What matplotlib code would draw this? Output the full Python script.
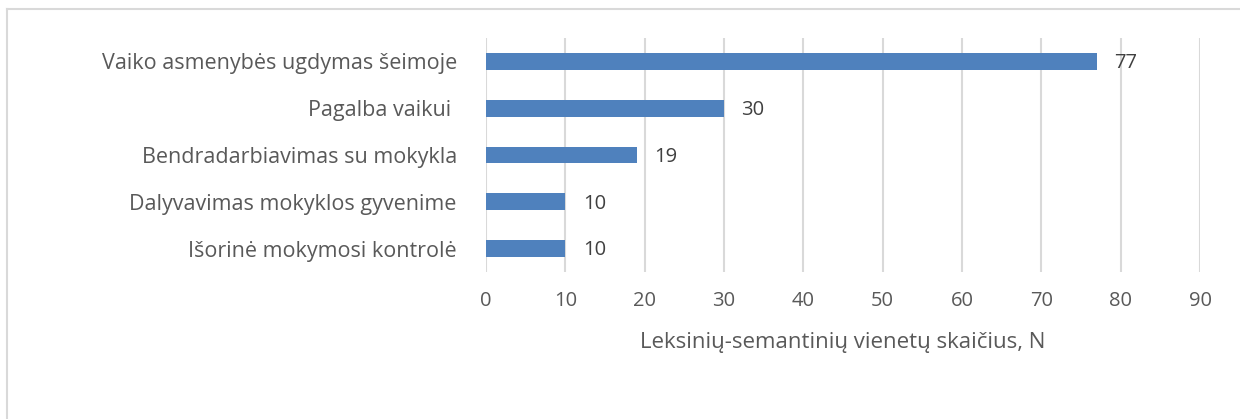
import matplotlib.pyplot as plt
from matplotlib.lines import Line2D

categories = ["Vaiko asmenybės ugdymas šeimoje", "Pagalba vaikui ",
              "Bendradarbiavimas su mokykla", "Dalyvavimas mokyklos gyvenime",
              "Išorinė mokymosi kontrolė"]
values = [77, 30, 19, 10, 10]
xticks = list(range(0, 100, 10))

plt.rcParams['font.family'] = ['Open Sans', 'DejaVu Sans']
txt = '#595959'

fig = plt.figure(figsize=(12.4, 4.19), dpi=100)
ax = fig.add_axes([486/1240, 1-272/419, (1200-486)/1240, (272-38)/419])

ypos = list(range(len(categories)))
ax.barh(ypos, values, height=0.36, color='#4f81bd', zorder=3)
for y, v in zip(ypos, values):
    ax.text(v + 2.2, y + 0.04, str(v), va='center', ha='left', fontsize=14.5, color='#404040')

ax.set_ylim(len(categories) - 0.5, -0.5)
ax.set_xlim(0, 90)
ax.set_yticks(ypos)
ax.set_yticklabels(categories, fontsize=15.5, color=txt)
ax.set_xticks(xticks)
ax.set_xticklabels([str(t) for t in xticks], fontsize=14.5, color=txt)
ax.tick_params(axis='both', length=0)
ax.tick_params(axis='y', pad=21)
ax.tick_params(axis='x', pad=14)
ax.grid(axis='x', color='#d9d9d9', linewidth=1.5, zorder=0)
for s in ax.spines.values():
    s.set_visible(False)
ax.set_xlabel('Leksinių-semantinių vienetų skaičius, N', fontsize=16, color=txt, labelpad=15)

# chart border
fig.add_artist(Line2D([7/1240, 7/1240], [0, 1-9/419], color='#d9d9d9', lw=1.5))
fig.add_artist(Line2D([7/1240, 1], [1-9/419, 1-9/419], color='#d9d9d9', lw=1.5))

fig.savefig('out.png', dpi=100)
